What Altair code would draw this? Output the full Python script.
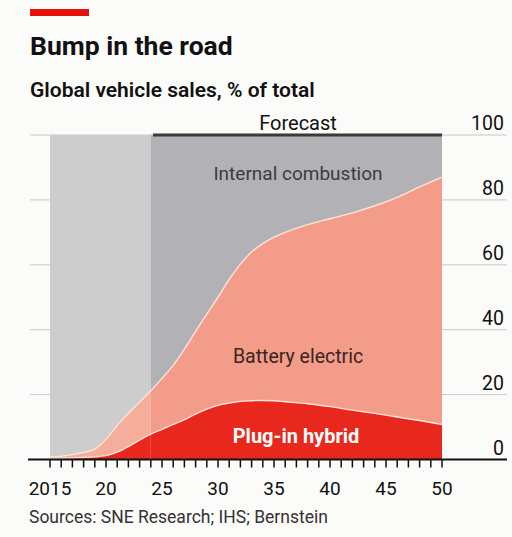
import altair as alt
import pandas as pd

# ---- data ----
years = [2015, 2016, 2017, 2018, 2019, 2020, 2021, 2022, 2023, 2024, 2025, 2026,
         2027, 2028, 2029, 2030, 2031, 2032, 2033, 2034, 2035, 2036, 2038, 2040,
         2042, 2044, 2046, 2048, 2050]
phev = [0.3, 0.4, 0.5, 0.6, 0.8, 1.2, 2.3, 4.0, 6.0, 7.8, 9.3, 10.8,
        12.3, 14.0, 15.5, 16.7, 17.4, 17.9, 18.1, 18.2, 18.1, 17.8, 17.2, 16.3,
        15.2, 14.2, 13.1, 12.0, 10.8]
ev_total = [0.8, 1.0, 1.5, 2.2, 3.2, 6.2, 10.5, 14.2, 17.7, 21.2, 25.0, 29.0,
            34.0, 39.5, 44.8, 50.0, 55.5, 60.2, 64.0, 66.5, 68.5, 70.0, 72.4, 74.2,
            76.0, 78.2, 80.8, 84.0, 87.0]
bev = [round(t - p, 2) for t, p in zip(ev_total, phev)]

forecast_start = 2024
x_range = [2015, 2050]
grid_values = [20, 40, 60, 80, 100]
y_labels = [0, 20, 40, 60, 80, 100]
tick_years = list(range(2015, 2051))
label_years = [2015, 2020, 2025, 2030, 2035, 2040, 2045, 2050]
label_texts = ["2015", "20", "25", "30", "35", "40", "45", "50"]

FONT = "Roboto"

df = pd.DataFrame({"year": years, "phev": phev, "bev": bev})
df["ev"] = df["phev"] + df["bev"]
df["top"] = 100.0
df["zero"] = 0.0
hist = df[df["year"] <= forecast_start]
fcst = df[df["year"] >= forecast_start]

xs = alt.Scale(domain=x_range, nice=False, zero=False)
ys = alt.Scale(domain=[0, 100], nice=False)

W, H = 392, 324.5


def areas(d, ice_col, bev_col, phev_col):
    base = alt.Chart(d)
    ice = base.mark_area(interpolate="monotone", color=ice_col).encode(
        x=alt.X("year:Q", scale=xs, axis=None),
        y=alt.Y("ev:Q", scale=ys, axis=None),
        y2="top:Q",
    )
    be = base.mark_area(interpolate="monotone", color=bev_col).encode(
        x=alt.X("year:Q", scale=xs, axis=None),
        y=alt.Y("phev:Q", scale=ys, axis=None),
        y2="ev:Q",
    )
    ph = base.mark_area(interpolate="monotone", color=phev_col).encode(
        x=alt.X("year:Q", scale=xs, axis=None),
        y=alt.Y("zero:Q", scale=ys, axis=None),
        y2="phev:Q",
    )
    return [ice, be, ph]


grid = alt.Chart(pd.DataFrame({"v": grid_values})).mark_rule(
    color="#c8c8c8", strokeWidth=1
).encode(
    y=alt.Y("v:Q", scale=ys, axis=None),
    x=alt.value(-20),
    x2=alt.value(W + 65),
)

lines = []
for col in ["ev", "phev"]:
    lines.append(
        alt.Chart(df).mark_line(interpolate="monotone", color="#fbe3d8", strokeWidth=1.4).encode(
            x=alt.X("year:Q", scale=xs, axis=None),
            y=alt.Y(f"{col}:Q", scale=ys, axis=None),
        )
    )

fc_df = pd.DataFrame({"x": [forecast_start + 0.2], "x2": [2050], "y": [100]})
forecast_line = alt.Chart(fc_df).mark_rule(color="#3a3a3a", strokeWidth=3).encode(
    x=alt.X("x:Q", scale=xs, axis=None),
    x2="x2:Q",
    y=alt.Y("y:Q", scale=ys, axis=None),
)

axis_line = alt.Chart(pd.DataFrame({"v": [0]})).mark_rule(color="#111", strokeWidth=2).encode(
    y=alt.Y("v:Q", scale=ys, axis=None),
    x=alt.value(-22),
    x2=alt.value(W + 65),
)

ticks = alt.Chart(pd.DataFrame({"year": tick_years})).mark_rule(color="#111", strokeWidth=1.5).encode(
    x=alt.X("year:Q", scale=xs, axis=None),
    y=alt.value(H),
    y2=alt.value(H + 8),
)

xlabels = alt.Chart(pd.DataFrame({"year": label_years, "t": label_texts})).mark_text(
    font=FONT, fontSize=19, color="#111", baseline="alphabetic", align="center"
).encode(
    x=alt.X("year:Q", scale=xs, axis=None),
    y=alt.value(H + 35.5),
    text="t:N",
)

ylabels = alt.Chart(pd.DataFrame({"v": y_labels})).mark_text(
    font=FONT, fontSize=19.5, color="#111", baseline="alphabetic", align="right", dy=-5
).encode(
    y=alt.Y("v:Q", scale=ys, axis=None),
    x=alt.value(W + 62),
    text="v:Q",
)


def txt(s, x, y, size, weight="normal", color="#111", align="left"):
    return alt.Chart(pd.DataFrame({"t": [s]})).mark_text(
        font=FONT, fontSize=size, fontWeight=weight, color=color,
        align=align, baseline="alphabetic"
    ).encode(x=alt.value(x), y=alt.value(y), text="t:N")


red_bar = alt.Chart(pd.DataFrame({"a": [1]})).mark_rect(color="#e3120b").encode(
    x=alt.value(-20), x2=alt.value(39), y=alt.value(-126), y2=alt.value(-119)
)

texts = [
    txt("Bump in the road", -20, -80, 26.5, "bold"),
    txt("Global vehicle sales, % of total", -20, -38, 21, 600),
    txt("Forecast", 248, -5, 20, "normal", "#111", "center"),
    txt("Internal combustion", 248, 45, 19, "normal", "#3c3c3c", "center"),
    txt("Battery electric", 248, 228, 19.5, "normal", "#3a2522", "center"),
    txt("Plug-in hybrid", 246, 308, 20, "bold", "#ffffff", "center"),
    txt("Sources: SNE Research; IHS; Bernstein", -21, 388, 17.5, "normal", "#333"),
]

layers = [grid]
layers += areas(hist, "#cdcdcd", "#f5ad9c", "#e8281c")
layers += areas(fcst, "#b2b1b6", "#f39c89", "#e8281c")
layers += lines + [forecast_line, axis_line, ticks, xlabels, ylabels, red_bar] + texts

chart = alt.layer(*layers).properties(
    width=W,
    height=H,
    autosize=alt.AutoSizeParams(type="none"),
    padding={"left": 50, "top": 135, "right": 512 - 50 - W, "bottom": 537 - 135 - H},
    background="#fbfbf9",
).configure_view(stroke=None)

chart.save("out.html", embed_options={"renderer": "svg", "actions": False})
